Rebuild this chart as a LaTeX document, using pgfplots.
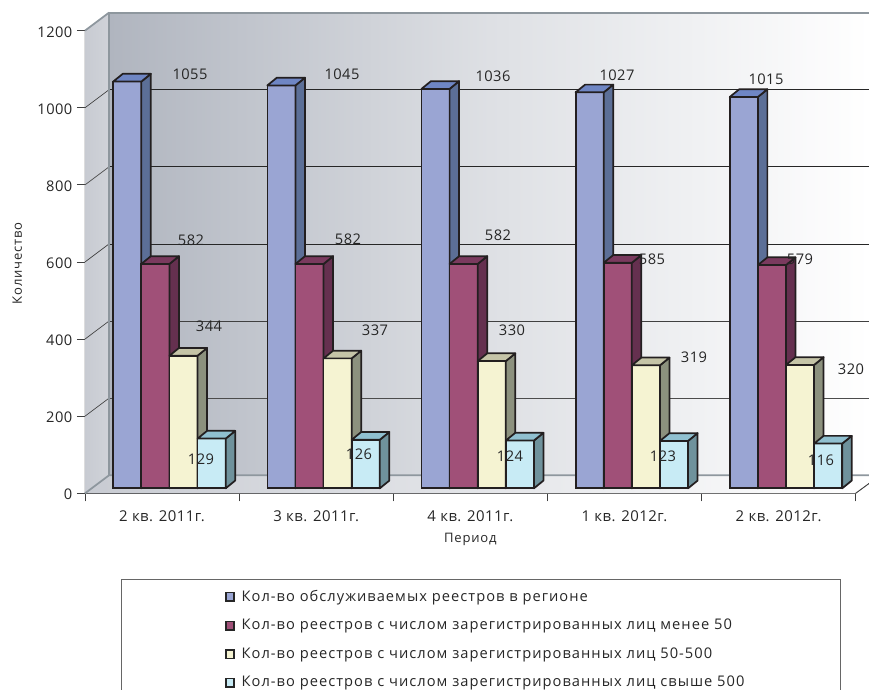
\documentclass[border=0pt]{standalone}
\usepackage{pgfplots}
\usepackage{pgfplotstable}
\usepackage{fontspec}
\setmainfont{Open Sans}
\newfontfamily\lsT[LetterSpace=3]{Open Sans}
\newfontfamily\lsL[LetterSpace=6]{Open Sans}
\newfontfamily\lsG[LetterSpace=7]{Open Sans}
\pgfplotsset{compat=1.18}
% 1 reference pixel = 0.75pt
\definecolor{edge}{HTML}{231F20}
\definecolor{fA}{HTML}{9AA5D3}\definecolor{sA}{HTML}{5C6F97}\definecolor{tA}{HTML}{6F86C4}
\definecolor{fB}{HTML}{A05078}\definecolor{sB}{HTML}{65304F}\definecolor{tB}{HTML}{7A3A5E}
\definecolor{fC}{HTML}{F5F3D2}\definecolor{sC}{HTML}{8C917E}\definecolor{tC}{HTML}{C5C4A7}
\definecolor{fD}{HTML}{C8EBF5}\definecolor{sD}{HTML}{6F929C}\definecolor{tD}{HTML}{90C0D0}
\definecolor{wallL}{HTML}{B0B5BF}\definecolor{wallR}{HTML}{FFFFFF}
\definecolor{sideW}{HTML}{C8CBD2}\definecolor{frameC}{HTML}{8E979E}
\pgfplotstableread{
x v
0.5 1055
1.5 1045
2.5 1036
3.5 1027
4.5 1015
}\seriesA
\pgfplotstableread{
x v
0.5 582
1.5 582
2.5 582
3.5 585
4.5 579
}\seriesB
\pgfplotstableread{
x v
0.5 344
1.5 337
2.5 330
3.5 319
4.5 320
}\seriesC
\pgfplotstableread{
x v
0.5 129
1.5 126
2.5 124
3.5 123
4.5 116
}\seriesD
% side and top faces of one bar
\newcommand{\oneface}[5]{% centre x, shift, value, side, top
  \pgfmathsetmacro\xl{#1+#2-0.0912}\pgfmathsetmacro\xr{#1+#2+0.0912}%
  \pgfmathsetmacro\xlb{\xl+0.0616}\pgfmathsetmacro\xrb{\xr+0.0616}%
  \pgfmathsetmacro\vb{#3+20}%
  \edef\tmp{\noexpand\addplot[forget plot,fill=#4,draw=edge,line width=1.3pt,line join=round] coordinates {(\xr,0) (\xrb,20) (\xrb,\vb) (\xr,#3)} --cycle;
  \noexpand\addplot[forget plot,fill=#5,draw=edge,line width=1.3pt,line join=round] coordinates {(\xl,#3) (\xlb,\vb) (\xrb,\vb) (\xr,#3)} --cycle;}\tmp}
\newcommand{\faces}[8]{%
  \oneface{0.5}{#1}{#4}{#2}{#3}\oneface{1.5}{#1}{#5}{#2}{#3}\oneface{2.5}{#1}{#6}{#2}{#3}%
  \oneface{3.5}{#1}{#7}{#2}{#3}\oneface{4.5}{#1}{#8}{#2}{#3}}
\begin{document}
\begin{tikzpicture}
\path[use as bounding box] (0pt,0pt) rectangle (651.75pt,-517.5pt);
% frame axis: walls, floor, value axis, categories
\begin{axis}[
  at={(63.75pt,-369.975pt)},anchor=south west,scale only axis,
  width=578pt,height=347pt,
  xmin=0,xmax=5,ymin=0,ymax=1200,clip=false,
  axis lines=left,axis line style={-,draw=black!75,line width=0.7pt},
  xtick={0.5,1.5,2.5,3.5,4.5},
  xticklabels={2 кв. 2011г.,3 кв. 2011г.,4 кв. 2011г.,1 кв. 2012г.,2 кв. 2012г.},
  minor xtick={0,1,2,3,4,5},
  major x tick style={draw=none},
  minor x tick style={draw=black!75,line width=0.7pt},
  minor tick length=6pt,
  ytick={0,200,400,600,800,1000,1200},
  y tick style={draw=black!75,line width=0.7pt},
  major tick length=6pt,
  tick align=outside,
  /pgf/number format/assume math mode=true,
  /pgf/number format/1000 sep={},
  x tick label style={font=\lsT\fontsize{11.2}{12}\selectfont,text=black!85,yshift=-3.5pt},
  y tick label style={font=\lsT\fontsize{11}{12}\selectfont,text=black!85,yshift=-1pt},
  xlabel={Период},ylabel={Количество},
  label style={font=\lsL\fontsize{9.8}{11}\selectfont,text=black!85},
  xlabel style={at={(axis description cs:0.5,-0.0995)},anchor=center},
  ylabel style={at={(axis description cs:-0.088,0.497)},anchor=center},
]
\fill[left color=sideW,right color=sideW!85!white] (axis cs:0,0) -- (axis cs:0.1557,46.7) -- (axis cs:0.1557,1246.7) -- (axis cs:0,1200) -- cycle;
\fill[left color=wallL,right color=wallR,middle color=wallL!42!white] (axis cs:0.1557,46.7) rectangle (axis cs:5.088,1246.7);
\fill[left color=sideW,right color=wallR] (axis cs:0,0) -- (axis cs:5,0) -- (axis cs:5.088,25.9) -- (axis cs:5.088,46.7) -- (axis cs:0.1557,46.7) -- cycle;
\draw[black!70,line width=0.7pt] (axis cs:0.1557,246.7) -- (axis cs:5.088,246.7);
\draw[black!75,line width=0.7pt] (axis cs:0.1557,446.7) -- (axis cs:5.088,446.7);
\draw[black!85,line width=0.6pt] (axis cs:0.1557,646.7) -- (axis cs:5.088,646.7);
\draw[black!85,line width=0.6pt] (axis cs:0.1557,846.7) -- (axis cs:5.088,846.7);
\draw[black!85,line width=0.6pt] (axis cs:0.1557,1046.7) -- (axis cs:5.088,1046.7);
\draw[black!75,line width=0.5pt] (axis cs:0,200) -- (axis cs:0.1557,246.7);
\draw[black!75,line width=0.5pt] (axis cs:0,400) -- (axis cs:0.1557,446.7);
\draw[black!75,line width=0.5pt] (axis cs:0,600) -- (axis cs:0.1557,646.7);
\draw[black!75,line width=0.5pt] (axis cs:0,800) -- (axis cs:0.1557,846.7);
\draw[black!75,line width=0.5pt] (axis cs:0,1000) -- (axis cs:0.1557,1046.7);
\draw[frameC,line width=1.3pt] (axis cs:0.1557,46.7) -- (axis cs:0.1557,1246.7) -- (axis cs:5.088,1246.7);
\draw[frameC,line width=1.3pt] (axis cs:0,1200) -- (axis cs:0.1557,1246.7);
\draw[frameC,line width=1.3pt] (axis cs:0,0) -- (axis cs:0.1557,46.7) -- (axis cs:5.088,46.7);
\draw[black!75,line width=0.7pt] (axis cs:5,0) -- (axis cs:5.088,25.9);
\end{axis}
% bars axis
\begin{axis}[
  at={(69.3pt,-366.225pt)},anchor=south west,scale only axis,
  width=578pt,height=347pt,
  xmin=0,xmax=5,ymin=0,ymax=1200,clip=false,hide axis,
  legend cell align=left,
  legend style={draw=none,fill=none,at={(0.172,-0.2135)},anchor=north west,inner sep=0pt,
    font=\lsG\fontsize{11}{12}\selectfont,text=black!85,row sep=7.9pt,
    /tikz/every even column/.append style={column sep=10pt}},
  legend image code/.code={\draw[draw=black!85,line width=1pt,#1] (0pt,-3.3pt) rectangle (6.2pt,3pt);\path (9.2pt,0pt);},
]
\addplot[ybar,bar width=21.075pt,bar shift=-31.61pt,fill=fA,draw=edge,line width=1.3pt] table[x=x,y=v]{\seriesA};
\faces{-0.2736}{sA}{tA}{1055}{1045}{1036}{1027}{1015}
\addplot[ybar,bar width=21.075pt,bar shift=-10.54pt,fill=fB,draw=edge,line width=1.3pt] table[x=x,y=v]{\seriesB};
\faces{-0.0912}{sB}{tB}{582}{582}{582}{585}{579}
\addplot[ybar,bar width=21.075pt,bar shift=10.54pt,fill=fC,draw=edge,line width=1.3pt] table[x=x,y=v]{\seriesC};
\faces{0.0912}{sC}{tC}{344}{337}{330}{319}{320}
\addplot[ybar,bar width=21.075pt,bar shift=31.61pt,fill=fD,draw=edge,line width=1.3pt] table[x=x,y=v]{\seriesD};
\faces{0.2736}{sD}{tD}{129}{126}{124}{123}{116}
\legend{Кол-во обслуживаемых реестров в регионе,
  Кол-во реестров с числом зарегистрированных лиц менее 50,
  Кол-во реестров с числом зарегистрированных лиц 50-500,
  Кол-во реестров с числом зарегистрированных лиц свыше 500}
\end{axis}
% overlay in picture coordinates: data labels and legend frame
\begin{axis}[
  at={(0pt,-517.5pt)},anchor=south west,scale only axis,
  width=651.75pt,height=517.5pt,
  xmin=0,xmax=869,ymin=0,ymax=690,y dir=reverse,clip=false,hide axis,
]
\addplot[only marks,mark=none,point meta=explicit symbolic,
  nodes near coords,
  every node near coord/.style={anchor=center,inner sep=0pt,text=black!85,font=\lsT\fontsize{11}{12}\selectfont}]
  table[x=x,y=y,meta=t]{
x y t
190 74 1055
191 240 582
209 326 344
201 459 129
342 74 1045
348 239 582
375 330 337
359 454 126
493 76 1036
498 235 582
512 330 330
510 456 124
617 75 1027
652 259 585
694 357 319
663 456 123
766 79 1015
800 259 579
851 369 320
821 460 116
};
\draw[black!60,line width=0.7pt] (axis cs:121,700) -- (axis cs:121,579) -- (axis cs:840,579) -- (axis cs:840,700);
\end{axis}
\end{tikzpicture}
\end{document}
